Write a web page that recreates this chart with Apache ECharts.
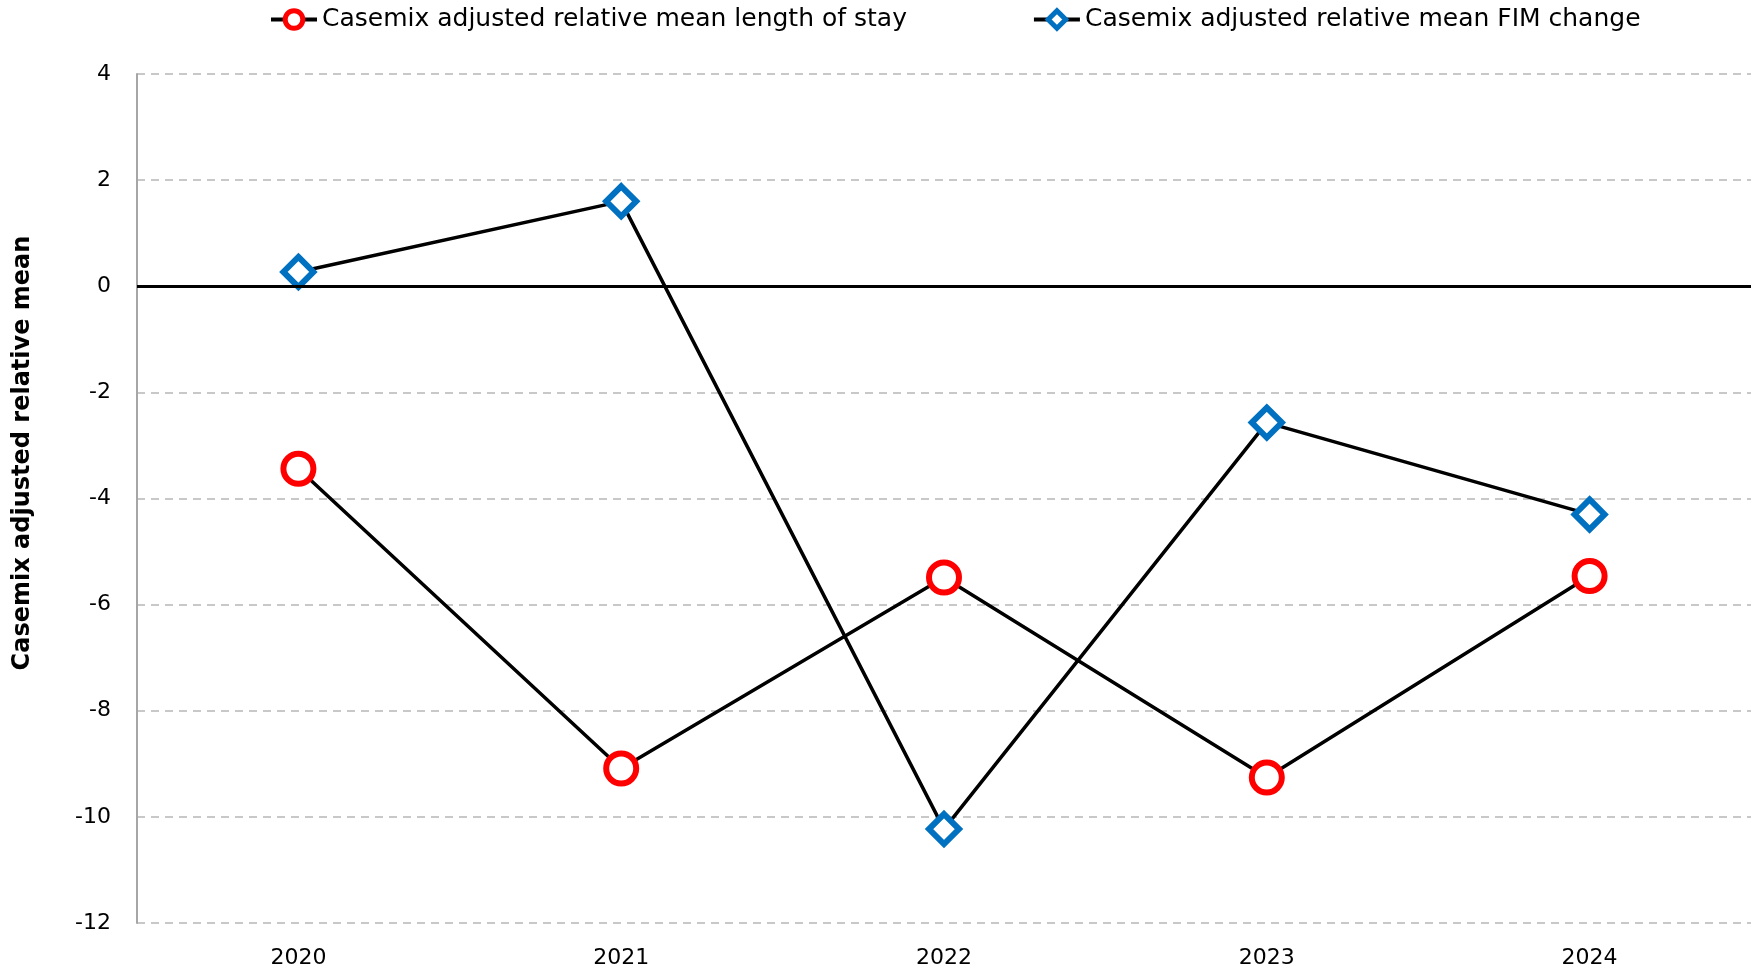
<!DOCTYPE html>
<html>
<head>
<meta charset="utf-8">
<script src="https://cdn.jsdelivr.net/npm/echarts@6/dist/echarts.min.js"></script>
<style>
  html, body { margin: 0; padding: 0; background: #fff; }
  #main { width: 1756px; height: 973px; }
</style>
</head>
<body>
<div id="main"></div>
<script>
var years = ['2020', '2021', '2022', '2023', '2024'];
var losValues = [-3.44, -9.09, -5.49, -9.26, -5.46];
var fimValues = [0.27, 1.60, -10.23, -2.57, -4.30];
var losName = 'Casemix adjusted relative mean length of stay';
var fimName = 'Casemix adjusted relative mean FIM change';
var yTitle = 'Casemix adjusted relative mean';

var fontName = 'DejaVu Sans';
var chart = echarts.init(document.getElementById('main'));

var option = {
  backgroundColor: '#fff',
  textStyle: { fontFamily: fontName, color: '#000' },
  grid: { left: 137, right: 5, top: 74, bottom: 50 },
  legend: {
    top: 2,
    left: 264,
    itemGap: 125,
    itemWidth: 46,
    itemHeight: 22,
    textStyle: { fontSize: 25, color: '#000', fontFamily: fontName },
    lineStyle: { width: 4 },
    data: [
      { name: losName, itemStyle: { borderWidth: 5 } },
      { name: fimName, itemStyle: { borderWidth: 5 } }
    ]
  },
  graphic: [{
    type: 'text',
    rotation: Math.PI / 2,
    x: 23,
    y: 453,
    style: {
      text: yTitle, fontSize: 24, fontWeight: 'bold', fill: '#000', fontFamily: fontName,
      align: 'center', verticalAlign: 'middle'
    }
  }],
  xAxis: {
    type: 'category',
    data: years,
    boundaryGap: true,
    axisLine: { show: false },
    axisTick: { show: false },
    axisLabel: { fontSize: 22, color: '#000', margin: 24 }
  },
  yAxis: {
    type: 'value',
    min: -12,
    max: 4,
    interval: 2,
    axisLine: { show: true, lineStyle: { color: '#a6a6a6', width: 2 } },
    axisTick: { show: false },
    axisLabel: { fontSize: 22, color: '#000', margin: 26 },
    splitLine: { lineStyle: { color: '#c8c8c8', type: [8, 6], width: 2 } }
  },
  series: [{
    name: losName,
    type: 'line',
    data: losValues,
    symbol: 'circle',
    symbolSize: 30,
    lineStyle: { color: '#000', width: 3.5 },
    itemStyle: { color: '#fff', borderColor: '#ff0000', borderWidth: 6 },
    z: 3,
    markLine: {
      silent: true,
      symbol: 'none',
      label: { show: false },
      lineStyle: { color: '#000', width: 3, type: 'solid' },
      data: [{ yAxis: 0 }]
    }
  }, {
    name: fimName,
    type: 'line',
    data: fimValues,
    symbol: 'diamond',
    symbolSize: 30,
    lineStyle: { color: '#000', width: 3.5 },
    itemStyle: { color: '#fff', borderColor: '#0070c0', borderWidth: 6 },
    z: 4
  }]
};
chart.setOption(option);
</script>
</body>
</html>
